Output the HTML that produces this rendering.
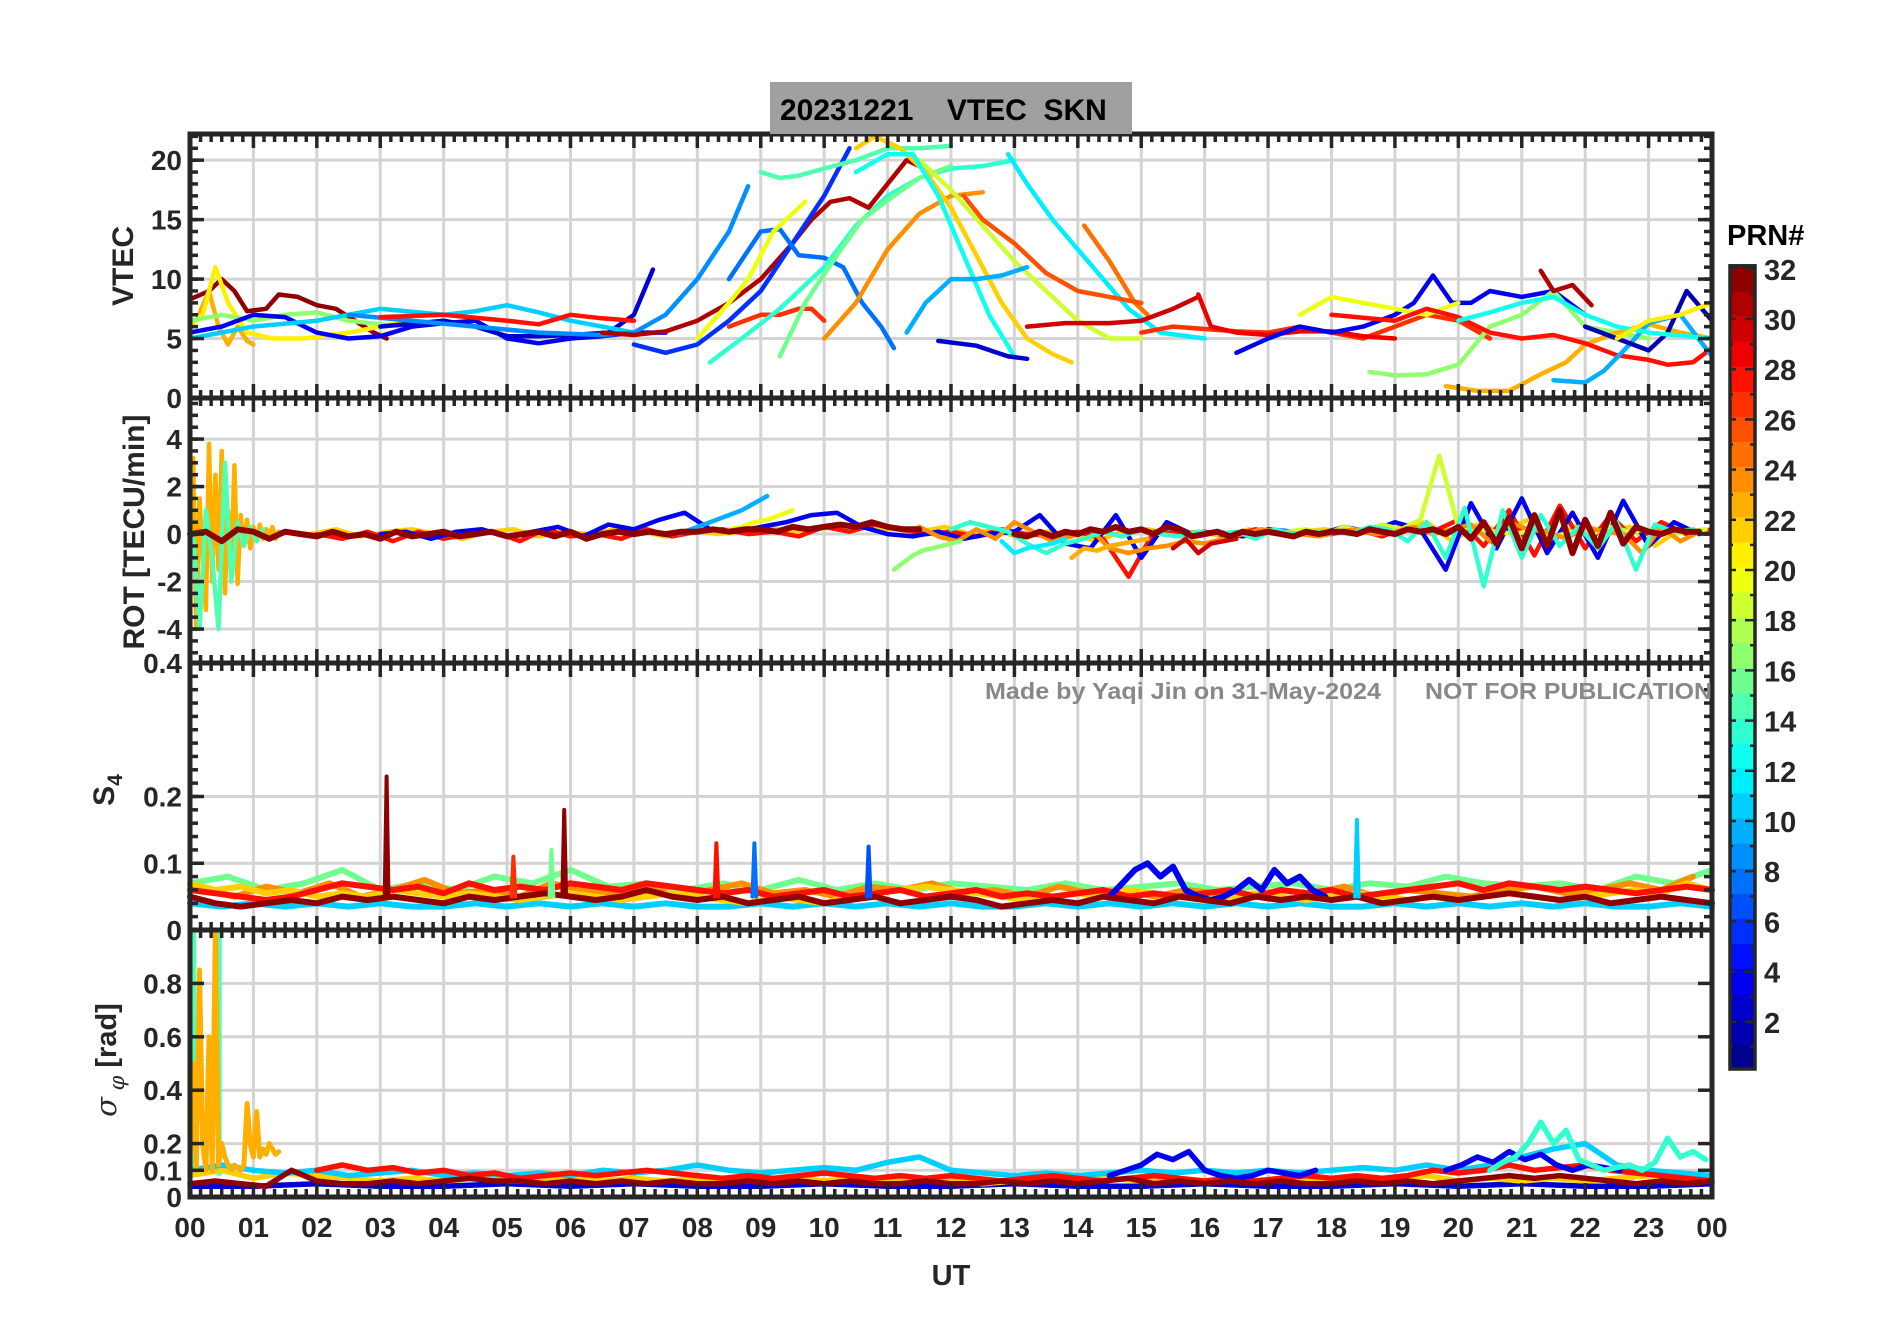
<!DOCTYPE html>
<html><head><meta charset="utf-8"><title>VTEC SKN 20231221</title>
<style>html,body{margin:0;padding:0;background:#fff}svg{display:block}text{font-family:"Liberation Sans",sans-serif;font-weight:bold}</style>
</head><body>
<svg id="fig" width="1902" height="1330" viewBox="0 0 1902 1330" xmlns="http://www.w3.org/2000/svg">
<rect x="0" y="0" width="1902" height="1330" fill="#fff"/>
<g id="grid"></g>
<g id="series"></g>
<g id="axes"></g>
<rect x="770" y="82" width="362" height="52" fill="#a0a0a0"/>
<text x="780" y="120" font-size="30" fill="#000" xml:space="preserve">20231221    VTEC  SKN</text>
<text x="985" y="699" font-size="23" fill="#888" textLength="396" lengthAdjust="spacingAndGlyphs">Made by Yaqi Jin on 31-May-2024</text>
<text x="1425" y="699" font-size="23" fill="#888" textLength="287" lengthAdjust="spacingAndGlyphs">NOT FOR PUBLICATION</text>
<text transform="translate(133,266) rotate(-90)" text-anchor="middle" font-size="30" fill="#262626">VTEC</text>
<text transform="translate(144,532) rotate(-90)" text-anchor="middle" font-size="30" fill="#262626">ROT [TECU/min]</text>
<text transform="translate(114,790) rotate(-90)" text-anchor="middle" font-size="30" fill="#262626">S<tspan font-size="21" dy="8">4</tspan></text>
<text transform="translate(116,1060) rotate(-90)" text-anchor="middle" font-size="29" fill="#262626"><tspan font-style="italic" font-weight="normal" font-family="DejaVu Serif, serif">σ</tspan><tspan font-size="21" dy="8" font-style="italic" font-weight="normal" font-family="DejaVu Serif, serif"> φ</tspan><tspan dy="-8"> [rad]</tspan></text>
<text x="951" y="1285" text-anchor="middle" font-size="29" fill="#262626">UT</text>
<g id="cbar"></g>
<text x="1727" y="245" font-size="29" fill="#000">PRN#</text>
</svg>
<script>
// ---------------- data ----------------
const hourTicks = [0,1,2,3,4,5,6,7,8,9,10,11,12,13,14,15,16,17,18,19,20,21,22,23,24];
const hourLabels = ["00","01","02","03","04","05","06","07","08","09","10","11","12","13","14","15","16","17","18","19","20","21","22","23","00"];
const vtecTicks = [0,5,10,15,20];
const rotTicks = [-4,-2,0,2,4];
const s4Ticks = [0,0.1,0.2,0.4];
const s4Labels = ["0","0.1","0.2","0.4"];
const sigTicks = [0,0.1,0.2,0.4,0.6,0.8];
const sigLabels = ["0","0.1","0.2","0.4","0.6","0.8"];
const prnTicks = [2,4,6,8,10,12,14,16,18,20,22,24,26,28,30,32];

// VTEC series: PRN, times (h), values (TECU)
const vtecPRN = [32,23,21,17,4,3,11,9,31,28,27,6,8,20,15,14,16,24,22,19,13,12,10,3,25,30,26,27,29,4,20,17,23,31,28,10,2,13,21];
const vtecT = [
[0,0.3,0.5,0.7,0.9,1.2,1.4,1.7,2,2.3,2.6,2.9,3.1],
[0.1,0.3,0.45,0.6,0.75,0.9,1.0],
[0,0.2,0.4,0.6,0.9,1.3,1.8,2.5,3,3.5],
[0,0.5,1,1.5,2,2.5,3,3.5],
[0,0.5,1,1.5,2,2.5,3,3.5,4,4.5,5,5.5,6,6.5,7,7.5],
[3,4,4.5,5,5.5,6,6.6,7,7.3],
[0,1,2,3,4,4.5,5,5.5,6,6.5,7],
[2.5,3.5,4.5,5.5,6.5,7,7.5,8,8.5,8.8],
[6.5,7,7.5,8,8.5,9,9.5,9.8,10.1,10.4,10.7,11,11.3,11.5,11.7],
[3,4,5,5.5,6,6.5,7],
[8.5,9,9.3,9.6,9.8,10],
[7,7.5,8,8.5,9,9.5,10,10.4],
[8.5,9,9.3,9.6,10,10.3,10.6,10.9,11.1],
[8,8.5,8.8,9.2,9.7],
[9,9.3,9.6,10,10.5,11,11.5,12],
[8.2,8.7,9.3,10,10.5,11,11.5,12,12.5,13],
[9.3,9.7,10.2,10.6,11.1,11.5,12],
[10,10.5,11,11.5,12,12.5],
[10.5,10.8,11.2,11.6,12,12.4,12.8,13.2,13.6,13.9],
[11.5,12,12.5,13,13.5,14,14.5,15],
[10.5,11,11.4,11.8,12.2,12.6,13],
[12.9,13.2,13.6,14,14.4,14.8,15.3,16],
[11.3,11.6,12,12.4,12.8,13.2],
[11.8,12.4,12.9,13.2],
[14.1,14.5,14.9,15.1],
[13.2,13.8,14.5,15,15.5,15.9],
[12.2,12.5,13,13.5,14,14.5,15],
[15,15.5,16,16.5,17,17.5,18,18.5,19,19.5,20,20.5],
[15.9,16.1,16.5,17,17.5,18,18.5,19],
[16.5,17,17.5,18,18.5,19,19.3,19.6,19.9,20.2,20.5,21,21.5,22],
[17.5,18,18.5,19,19.5,20],
[18.6,19,19.5,20,20.5,21,21.5,22,22.5,23],
[19.8,20.3,20.8,21.3,21.7,22,22.5,23,23.5,24],
[21.3,21.5,21.8,22.1],
[18,19,19.5,20,20.5,21,21.5,22,22.5,23,23.3,23.7,24],
[21.5,22,22.3,22.7,23,23.5,24],
[22,22.5,23,23.3,23.6,24],
[20,20.5,21,21.5,22,22.5,23,24],
[22.5,23,23.5,24]];
const vtecV = [
[8.3,9,10,9,7.3,7.5,8.7,8.5,7.8,7.5,6.5,5.5,5.0],
[6.5,9,6,4.5,6,4.8,4.5],
[6,7,11,8,5.5,5,5,5.5,6,6.5],
[6.5,7,6.5,7,7.2,6.5,6.2,6],
[5.5,6,7,6.8,5.5,5,5.2,6,6.3,6.5,5.0,4.6,5,5.2,5.5,5.5],
[6,6.5,6,5.2,5.2,5.3,5.5,7,10.8],
[5,6,6.5,7.5,7,7.3,7.8,7.2,6.5,6,5.5],
[7,6.5,6,5.5,5.3,5.5,7,10,14,17.8],
[5.5,5.3,5.6,6.5,8,10,13,15,16.5,16.8,16,18,20,19.5,18.8],
[6.8,7,6.5,6.2,7,6.7,6.5],
[6,7,7,7.5,7.5,6.5],
[4.5,3.8,4.5,6.5,9,13,17,21],
[10,14,14.2,12,11.8,11,8,6,4.2],
[5,8,10,14,16.5],
[19,18.5,18.7,19.3,20,21,21,21.2],
[3,5,7.5,11,14.5,17,18.5,19.3,19.5,20],
[3.5,8,12,15,17,18.5,19.5],
[5,8,12.5,15.5,17,17.3],
[21,22,21,19,16,12,8,5,3.7,3],
[20,17.5,14.5,11.5,9,6.5,5,5],
[19,20.5,20.5,17,12,7,3.5],
[20.5,18,15,12.5,10,7.5,5.5,5],
[5.5,8,10,10,10.3,11],
[4.8,4.4,3.5,3.3],
[14.5,11.5,8,7],
[6,6.3,6.3,6.5,7.5,8.5],
[17,15,13,10.5,9,8.5,8],
[5.5,6,5.8,5.6,5.5,6,5.5,5,6,7,6.5,5],
[8.7,6,5.5,5.3,5.6,5.6,5.2,5],
[3.8,5,6,5.5,6,7,8,10.3,8,8,9,8.5,9,7],
[7,8.5,8,7.5,7,8],
[2.2,1.9,2,2.8,6,7,9,6,5.5,5],
[1,0.6,0.6,2,3,4.5,5.5,6.2,5.5,5],
[10.7,9,9.5,7.8],
[7,6.5,7.5,6.8,5.5,5,5.3,4.6,3.6,3.2,2.8,3,4.2],
[1.5,1.3,2.3,4.5,6.3,7,3.5],
[6,5,4,5.5,9,6.5],
[6.5,7.2,8,8.5,7,6,5.5,5],
[5,6.5,7,8]];

// ROT series: PRN, start hour, step (h), values
const rotPRN = [23,15,22,28,4,10,20,19,24,14,17,12,30,23,32,32];
const rotStart = [0,0.05,1.5,2,3,7.7,8.5,17,11.5,12,11.1,12.8,15.5,13.9,0,13];
const rotStep = [0.05,0.1,0.4,0.4,0.4,0.2,0.2,0.3,0.3,0.3,0.15,0.2,0.2,0.2,0.25,0.2];
const rotV = [
[0,3.2,-4,1.5,-1,-3.2,3.8,-2,2.5,-1.5,3.5,-2.5,1,-1.5,2.9,-2.1,0.8,-0.5,0.6,-0.6,0.3,-0.3,0.4,-0.2,0.2,0,0.3,-0.2,0.1,0,0.1],
[0,-4,1,-1,-4,3,-2,0.5,-0.5,0.3,-0.3,0.2],
[0.1,0,0.2,-0.1,0.1,0.2,0,-0.2,0.1,0.2,-0.1,0.1,0,0.2,0.1,-0.1,0.2,0,0.1,0.3,0.1,0.2,0.4,0.3,0.2,0.1,0.3,0,0.2,-0.2,0.1,0,-0.3,0.1,0.2,0,0.1,-0.1,0.2,0,0.1,0.2,0,0.1,0.3,0.5,-0.3,0.4,0.1,0.6,-0.2,0.4,0.1,0.3,-0.5,0.2,0.1],
[0,-0.2,0.1,-0.3,0.1,-0.2,0,0.1,-0.3,0.2,-0.1,0,-0.2,0.2,-0.1,0.1,0.2,0,0.1,-0.1,0.3,0.1,0.4,0.2,0,0.1,-0.1,0.2,0,-0.1,0.1,-0.2,-1.8,0.1,0,0.1,-0.1,0.2,0,0.1,0,0.2,-0.1,0.3,0.1,0.6,-0.5,1,-0.9,1.2,-0.6,0.8,-0.3,0.5,0,0.2],
[0,0.1,-0.2,0.1,0.2,-0.1,0.1,0.3,-0.1,0.4,0.2,0.6,0.9,0.2,0.1,0.3,0.5,0.8,0.9,0.3,0,-0.1,0.1,-0.2,0,0.1,0.8,-0.4,-0.6,0.8,-1,0.5,0,0.1,-0.1,0.2,0.1,0,0.3,0.1,0.5,0.2,-1.5,1.3,-0.6,1.5,-0.8,0.9,-1,1.4,-0.5,0.5,0],
[0,0.2,0.4,0.6,0.8,1.0,1.3,1.6],
[0.2,0.3,0.5,0.6,0.8,1.0],
[0,0.1,0.2,0,0.3,0.1,0.4,0.2,0.6,3.3,0.3,0.2,0.1,0,0.2,-0.1,0.1,0,0.3,0.1,0.2,0,0.1,0.2],
[0.3,-0.1,-0.3,0.2,-0.2,0.5,0.1,-0.3,-0.1,0.2,-0.6,-0.8,-0.6,-0.5,-0.3,-0.4,-0.2,0,0.2,0.1,0,-0.1,0.1,0.2,0,0.1,0.3,0,0.2,0.4,-0.3,0.5,0.2,0.1,-0.2,0.3,0.1,0,-0.8,0.3,-0.3,0.1],
[0.2,0.5,0.3,0.1,-0.4,-0.8,-0.4,-0.2,0.1,-0.1,0.2,0,-0.1,0.1,0,0.1,-0.2,0.2,0,0.1,0.1,0,0.3,0.2,-0.3,0.5,-1,1.1,-2.2,1,-1,0.8,-0.5,0.3,-0.6,0.5,-1.5,0.4,0.1,0.2],
[-1.5,-1.2,-0.9,-0.7,-0.6,-0.5,-0.4,-0.3],
[-0.3,-0.8,-0.6,-0.5,-0.4,-0.2],
[-0.6,-0.2,-0.8,-0.4,-0.3,-0.2],
[-1,-0.6,-0.7,-0.5,-0.4,-0.3,-0.2],
[0,0.1,-0.3,0.2,0.1,-0.2,0.1,0,-0.1,0.1,-0.1,0,-0.2,0.1,-0.1,0,0.1,-0.1,0,0.1,-0.1,0,0.1,-0.1,0.1,-0.2,0,0.1,0,0.1,0,0.1,0.1,0.2,0.1,0.2,0.2,0.1,0.3,0.2,0.3,0.4,0.3,0.5,0.3,0.2,0.2],
[0,-0.1,0.1,-0.1,0.1,0,0.2,0.1,0.3,0.1,0.2,0,0.3,0.2,-0.1,0,0.1,-0.1,0.1,0,0.1,0,-0.1,0.1,0,0.1,0.1,0,0.2,0.1,0,0.2,0.1,0.2,0,0.3,-0.2,0.5,-0.4,0.7,-0.6,0.8,-0.5,1,-0.8,0.6,-0.5,0.9,-0.4,0.3,0.1,0,0.2,0.1,0.1]];

// S4 series
const s4PRN = [11,16,24,22,28,4,32];
const s4Start = [0,0,0.2,0,0,14.5,0];
const s4Step = [0.5,0.6,0.5,0.4,0.4,0.2,0.4];
const s4V = [
[0.04,0.035,0.04,0.035,0.04,0.035,0.04,0.035,0.035,0.04,0.035,0.04,0.035,0.04,0.035,0.04,0.035,0.035,0.04,0.035,0.04,0.035,0.04,0.035,0.04,0.035,0.035,0.04,0.035,0.04,0.035,0.04,0.035,0.04,0.035,0.04,0.035,0.035,0.04,0.035,0.04,0.035,0.04,0.035,0.04,0.035,0.035,0.04,0.035],
[0.07,0.08,0.06,0.07,0.09,0.06,0.07,0.06,0.08,0.07,0.09,0.065,0.07,0.06,0.07,0.06,0.075,0.06,0.07,0.06,0.07,0.065,0.06,0.07,0.06,0.065,0.07,0.06,0.065,0.07,0.06,0.07,0.065,0.08,0.07,0.065,0.07,0.06,0.08,0.07,0.09],
[0.06,0.05,0.065,0.055,0.07,0.05,0.06,0.075,0.055,0.06,0.05,0.07,0.06,0.055,0.065,0.05,0.06,0.07,0.055,0.06,0.05,0.065,0.06,0.07,0.055,0.06,0.05,0.065,0.055,0.06,0.05,0.06,0.055,0.05,0.06,0.055,0.065,0.05,0.06,0.055,0.05,0.06,0.065,0.055,0.06,0.07,0.06,0.08],
[0.07,0.06,0.065,0.055,0.06,0.05,0.055,0.05,0.06,0.055,0.05,0.055,0.05,0.045,0.05,0.055,0.05,0.045,0.05,0.055,0.05,0.045,0.04,0.05,0.045,0.04,0.05,0.055,0.06,0.065,0.06,0.055,0.05,0.045,0.05,0.055,0.05,0.06,0.055,0.05,0.045,0.05,0.055,0.05,0.045,0.05,0.055,0.05,0.045,0.05,0.045,0.05,0.055,0.05,0.045,0.05,0.055,0.06,0.055,0.07,0.06],
[0.06,0.055,0.05,0.045,0.05,0.06,0.07,0.065,0.06,0.065,0.055,0.07,0.06,0.065,0.06,0.07,0.065,0.06,0.07,0.065,0.06,0.055,0.06,0.05,0.055,0.06,0.05,0.055,0.06,0.05,0.055,0.06,0.05,0.055,0.05,0.055,0.06,0.05,0.055,0.05,0.055,0.06,0.05,0.06,0.055,0.06,0.05,0.055,0.06,0.065,0.07,0.06,0.07,0.065,0.06,0.065,0.06,0.055,0.06,0.065,0.06],
[0.05,0.07,0.09,0.1,0.08,0.095,0.06,0.05,0.045,0.05,0.06,0.075,0.06,0.09,0.07,0.08,0.06,0.05],
[0.05,0.04,0.035,0.04,0.045,0.04,0.05,0.045,0.05,0.045,0.04,0.05,0.045,0.05,0.055,0.05,0.045,0.05,0.06,0.05,0.045,0.05,0.04,0.045,0.05,0.04,0.045,0.05,0.04,0.045,0.05,0.045,0.035,0.04,0.045,0.04,0.05,0.045,0.04,0.05,0.045,0.04,0.05,0.045,0.05,0.045,0.05,0.04,0.045,0.05,0.045,0.05,0.055,0.05,0.045,0.05,0.04,0.045,0.05,0.045,0.04]];
// S4 spikes: PRN, hour, peak value
const s4SpikePRN = [32,32,28,8,7,11,27,16];
const s4SpikeT = [3.1,5.9,8.3,8.9,10.7,18.4,5.1,5.7];
const s4SpikeV = [0.23,0.18,0.13,0.13,0.125,0.165,0.11,0.12];

// Sigma-phi series
const sigPRN = [3,22,11,28,4,4,14,32,23];
const sigStart = [0,0,0,2,14.5,19.8,20.5,0,0];
const sigStep = [1,0.5,0.5,0.4,0.25,0.25,0.2,0.4,0.05];
const sigV = [
[0.04,0.04,0.05,0.04,0.04,0.05,0.04,0.05,0.04,0.04,0.05,0.04,0.04,0.05,0.04,0.04,0.05,0.04,0.04,0.05,0.04,0.05,0.04,0.04,0.05],
[0.08,0.1,0.07,0.09,0.08,0.07,0.06,0.07,0.06,0.07,0.06,0.06,0.07,0.06,0.07,0.06,0.07,0.06,0.06,0.07,0.06,0.07,0.06,0.07,0.06,0.05,0.06,0.07,0.06,0.07,0.06,0.07,0.06,0.07,0.06,0.06,0.07,0.06,0.07,0.08,0.06,0.07,0.06,0.07,0.06,0.07,0.08,0.07,0.06],
[0.1,0.12,0.1,0.09,0.1,0.08,0.09,0.1,0.08,0.09,0.08,0.09,0.08,0.1,0.09,0.1,0.12,0.1,0.09,0.1,0.11,0.1,0.13,0.15,0.1,0.09,0.08,0.09,0.08,0.09,0.1,0.09,0.1,0.09,0.1,0.09,0.1,0.11,0.1,0.12,0.1,0.12,0.15,0.18,0.2,0.12,0.1,0.09,0.08],
[0.1,0.12,0.1,0.11,0.09,0.1,0.08,0.09,0.07,0.08,0.09,0.08,0.09,0.1,0.09,0.08,0.07,0.08,0.07,0.08,0.09,0.08,0.07,0.08,0.07,0.08,0.07,0.06,0.07,0.08,0.07,0.06,0.07,0.08,0.07,0.06,0.07,0.06,0.07,0.08,0.07,0.08,0.07,0.08,0.1,0.09,0.1,0.12,0.1,0.11,0.12,0.1,0.09,0.08,0.07,0.06],
[0.08,0.1,0.12,0.16,0.14,0.17,0.1,0.08,0.07,0.08,0.1,0.09,0.08,0.1],
[0.1,0.12,0.15,0.13,0.17,0.14,0.16,0.12,0.1,0.12,0.11,0.1],
[0.1,0.13,0.15,0.2,0.28,0.2,0.25,0.14,0.12,0.1,0.11,0.12,0.1,0.13,0.22,0.15,0.17,0.14],
[0.05,0.06,0.05,0.04,0.1,0.06,0.05,0.05,0.06,0.05,0.06,0.07,0.06,0.06,0.05,0.06,0.05,0.06,0.05,0.06,0.05,0.05,0.06,0.05,0.06,0.05,0.06,0.05,0.05,0.06,0.05,0.05,0.06,0.05,0.06,0.05,0.06,0.07,0.05,0.06,0.05,0.06,0.05,0.06,0.05,0.05,0.06,0.05,0.06,0.05,0.06,0.07,0.08,0.07,0.08,0.07,0.06,0.05,0.06,0.05,0.06],
[0.15,0.5,0.1,0.85,0.2,0.1,0.6,0.1,1.0,0.12,0.2,0.15,0.12,0.1,0.12,0.11,0.1,0.12,0.35,0.2,0.15,0.32,0.15,0.18,0.16,0.2,0.18,0.16,0.17]];
// saturated seafoam blocks in sigma panel: start hour, end hour
const sigBlockStart = [0.0,0.42];
const sigBlockEnd = [0.1,0.5];

// ---------------- layout ----------------
const NS = "http://www.w3.org/2000/svg";
const X0 = 190, X1 = 1712;
const panels = {
  vtec: {top:134, bot:398, min:0, max:22.2},
  rot:  {top:398, bot:663, min:-5.43, max:5.73},
  s4:   {top:663, bot:930, min:0, max:0.4},
  sig:  {top:930, bot:1197, min:0, max:1.0}
};
function xs(h){ return X0 + h*(X1-X0)/24; }
function ys(p, v){ const P = panels[p]; return P.bot - (v-P.min)/(P.max-P.min)*(P.bot-P.top); }
function jet(t){
  const r = Math.max(0, Math.min(1, 1.5 - Math.abs(4*t-3)));
  const g = Math.max(0, Math.min(1, 1.5 - Math.abs(4*t-2)));
  const b = Math.max(0, Math.min(1, 1.5 - Math.abs(4*t-1)));
  return "rgb(" + Math.round(r*255) + "," + Math.round(g*255) + "," + Math.round(b*255) + ")";
}
function prnColor(prn){ return jet((prn-0.5)/32); }
function mk(tag, attrs, parent){
  const e = document.createElementNS(NS, tag);
  for (const k in attrs) e.setAttribute(k, attrs[k]);
  parent.appendChild(e);
  return e;
}
const gGrid = document.getElementById("grid");
const gSer = document.getElementById("series");
const gAx = document.getElementById("axes");

// grid
for (const p in panels) {
  const P = panels[p];
  for (const h of hourTicks) {
    const gl = mk("line", {x1:xs(h), x2:xs(h), y1:P.top, y2:P.bot, stroke:"#d4d4d4", "stroke-width":3}, gGrid);
    
    
  }
  const yt = p==="vtec"?vtecTicks:p==="rot"?rotTicks:p==="s4"?s4Ticks:sigTicks;
  for (const v of yt) {
    const gl = mk("line", {x1:X0, x2:X1, y1:ys(p,v), y2:ys(p,v), stroke:"#d4d4d4", "stroke-width":3}, gGrid);
    
    
  }
}

function drawLine(p, ts, vs, prn, w, name){
  let d = "";
  for (let i=0;i<ts.length;i++){
    let v = Math.max(panels[p].min, Math.min(panels[p].max, vs[i]));
    d += (i?"L":"M") + xs(ts[i]).toFixed(1) + " " + ys(p,v).toFixed(1);
  }
  const e = mk("path", {d:d, fill:"none", stroke:prnColor(prn), "stroke-width":w, "stroke-linejoin":"round", "stroke-linecap":"round"}, gSer);
  
  
}
function regT(start, step, n){ const a=[]; for(let i=0;i<n;i++) a.push(start+i*step); return a; }

// sigma blocks
for (let i=0;i<sigBlockStart.length;i++){
  const r = mk("rect", {x:xs(sigBlockStart[i]), y:ys("sig",1.0), width:xs(sigBlockEnd[i])-xs(sigBlockStart[i]), height:ys("sig",0.08)-ys("sig",1.0), fill:prnColor(15)}, gSer);
  
  
}
// VTEC
for (let i=0;i<vtecPRN.length;i++) drawLine("vtec", vtecT[i], vtecV[i], vtecPRN[i], 4.5, "vtec-series-prn"+vtecPRN[i]);
// ROT
for (let i=0;i<rotPRN.length;i++) drawLine("rot", regT(rotStart[i], rotStep[i], rotV[i].length), rotV[i], rotPRN[i], i>=14?6:4.5, "rot-series-prn"+rotPRN[i]);
// S4
for (let i=0;i<s4PRN.length;i++) drawLine("s4", regT(s4Start[i], s4Step[i], s4V[i].length), s4V[i], s4PRN[i], 6, "s4-series-prn"+s4PRN[i]);
for (let i=0;i<s4SpikePRN.length;i++) drawLine("s4", [s4SpikeT[i]-0.03, s4SpikeT[i], s4SpikeT[i]+0.03], [0.05, s4SpikeV[i], 0.05], s4SpikePRN[i], 4, "s4-spike-prn"+s4SpikePRN[i]);
// sigma
for (let i=0;i<sigPRN.length;i++) drawLine("sig", regT(sigStart[i], sigStep[i], sigV[i].length), sigV[i], sigPRN[i], i===8?5:5.5, "sigma-series-prn"+sigPRN[i]);

// axes frames, ticks, labels
const AX = "#262626";
for (const p in panels) {
  const P = panels[p];
  const fr = mk("rect", {x:X0, y:P.top, width:X1-X0, height:P.bot-P.top, fill:"none", stroke:AX, "stroke-width":5}, gAx);
  
  
  for (let m=0;m<=24*6;m++){
    const h = m/6, len = (m%6===0)?14:8;
    const x = xs(h);
    const t1 = mk("line", {x1:x, x2:x, y1:P.top, y2:P.top+len, stroke:AX, "stroke-width":3.5}, gAx);
    
    
    const t2 = mk("line", {x1:x, x2:x, y1:P.bot, y2:P.bot-len, stroke:AX, "stroke-width":3.5}, gAx);
    
    
  }
  let minor = [], major = [], labels = [];
  if (p==="vtec"){ for(let v=0;v<=22;v++) minor.push(v); major=vtecTicks; labels=vtecTicks.map(String); }
  if (p==="rot"){ for(let v=-5;v<=5.5;v+=0.5) minor.push(v); major=rotTicks; labels=rotTicks.map(String); }
  if (p==="s4"){ for(let v=0;v<=0.4;v+=0.02) minor.push(v); major=s4Ticks; labels=s4Labels; }
  if (p==="sig"){ major=sigTicks; labels=sigLabels; }
  for (const v of minor){
    const y = ys(p,v);
    const a = mk("line", {x1:X0, x2:X0+8, y1:y, y2:y, stroke:AX, "stroke-width":3.5}, gAx);
    
    
    const b = mk("line", {x1:X1, x2:X1-8, y1:y, y2:y, stroke:AX, "stroke-width":3.5}, gAx);
    
    
  }
  for (let i=0;i<major.length;i++){
    const y = ys(p,major[i]);
    const a = mk("line", {x1:X0, x2:X0+14, y1:y, y2:y, stroke:AX, "stroke-width":3.5}, gAx);
    
    
    const b = mk("line", {x1:X1, x2:X1-14, y1:y, y2:y, stroke:AX, "stroke-width":3.5}, gAx);
    
    
    const t = mk("text", {x:X0-8, y:y+10, "text-anchor":"end", "font-size":28, fill:AX}, gAx);
    t.textContent = labels[i];
    
    
  }
}
for (let i=0;i<hourTicks.length;i++){
  const t = mk("text", {x:xs(hourTicks[i]), y:1237, "text-anchor":"middle", "font-size":28, fill:AX}, gAx);
  t.textContent = hourLabels[i];
  
  
}

// colorbar
const gC = document.getElementById("cbar");
const CB_X = 1730, CB_W = 25, CB_BOT = 1069, CB_UNIT = 25.1;
for (let k=0;k<32;k++){
  const r = mk("rect", {x:CB_X, y:CB_BOT-(k+1)*CB_UNIT, width:CB_W, height:CB_UNIT+0.5, fill:prnColor(k+1)}, gC);
  
  
}
const cf = mk("rect", {x:CB_X, y:CB_BOT-32*CB_UNIT, width:CB_W, height:32*CB_UNIT, fill:"none", stroke:AX, "stroke-width":3.5}, gC);


for (let v=1; v<=32; v++){
  const y = CB_BOT - v*CB_UNIT + 3;
  const tk = mk("line", {x1:CB_X+CB_W, x2:CB_X+CB_W-(v%2===0?10:5), y1:y, y2:y, stroke:AX, "stroke-width":2.5}, gC);
  
  
  const tk2 = mk("line", {x1:CB_X, x2:CB_X+(v%2===0?6:3), y1:y, y2:y, stroke:AX, "stroke-width":2.5}, gC);
  
  
}
for (const v of prnTicks){
  const t = mk("text", {x:1764, y:CB_BOT - v*CB_UNIT + 14, "font-size":29, fill:AX}, gC);
  t.textContent = String(v);
  
  
}
</script>
</body></html>
